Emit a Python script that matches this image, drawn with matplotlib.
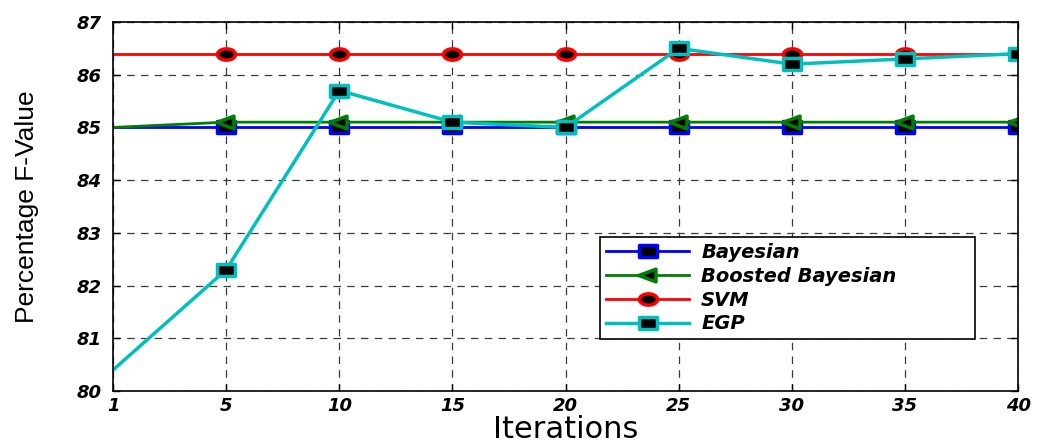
import matplotlib
matplotlib.use("Agg")
import matplotlib.pyplot as plt
from matplotlib.path import Path
import numpy as np

# data
iterations = ["1", "5", "10", "15", "20", "25", "30", "35", "40"]
bayesian = [85.0, 85.0, 85.0, 85.0, 85.0, 85.0, 85.0, 85.0, 85.0]
boosted = [85.0, 85.1, 85.1, 85.1, 85.1, 85.1, 85.1, 85.1, 85.1]
svm = [86.4, 86.4, 86.4, 86.4, 86.4, 86.4, 86.4, 86.4, 86.4]
egp = [80.4, 82.3, 85.7, 85.1, 85.0, 86.5, 86.2, 86.3, 86.4]

plt.rcParams["font.family"] = ["Liberation Sans", "DejaVu Sans"]

# the original figure looks stretched sideways, so markers are wider than tall
rect = Path([(-1.5, -1), (1.5, -1), (1.5, 1), (-1.5, 1), (-1.5, -1)],
	[Path.MOVETO, Path.LINETO, Path.LINETO, Path.LINETO, Path.CLOSEPOLY])
tri = Path([(-1.3, 0), (1.0, 0.85), (1.0, -0.85), (-1.3, 0)],
	[Path.MOVETO, Path.LINETO, Path.LINETO, Path.CLOSEPOLY])
t = np.linspace(0, 2 * np.pi, 41)
ell = Path(np.column_stack([1.6 * np.cos(t), np.sin(t)]))

fig = plt.figure(figsize=(10.4, 4.45), dpi=100)
ax = fig.add_axes([0.1087, 0.1213, 0.8702, 0.8293])

x = np.arange(len(iterations))
marks = list(range(1, len(iterations)))

ax.plot(x, bayesian, color="#0000ff", lw=2, marker=rect, ms=13, mfc="black",
	mec="#0000ff", mew=2.5, markevery=marks, label="Bayesian")
ax.plot(x, boosted, color="#007f00", lw=2, marker=tri, ms=14, mfc="black",
	mec="#007f00", mew=2.5, markevery=marks, label="Boosted Bayesian")
ax.plot(x, svm, color="#ff0000", lw=2, marker=ell, ms=13, mfc="black",
	mec="#ff0000", mew=2.5, markevery=marks, label="SVM")
ax.plot(x, egp, color="#00bfbf", lw=2.5, marker=rect, ms=13, mfc="black",
	mec="#00bfbf", mew=2.5, markevery=marks, label="EGP")

ax.set_xlim(0, len(iterations) - 1)
ax.set_ylim(80, 87)
ax.set_xticks(x)
ax.set_xticklabels(iterations)
ax.set_yticks(np.arange(80, 88, 1))

for lab in ax.get_xticklabels() + ax.get_yticklabels():
	lab.set_family("DejaVu Sans")
	lab.set_fontweight("bold")
	lab.set_fontstyle("italic")
	lab.set_fontsize(13)

ax.tick_params(direction="in", top=True, right=True, length=5, width=1)
ax.tick_params(axis="y", pad=8)
ax.tick_params(axis="x", pad=4)
ax.grid(True, color="#3a3a3a", linestyle=(0, (6, 5)), lw=0.9)
ax.set_axisbelow(True)
for s in ax.spines.values():
	s.set_linewidth(1.2)
	s.set_color("black")

ax.set_xlabel("Iterations", fontsize=22, family="DejaVu Sans", labelpad=0)
ax.set_ylabel("Percentage F-Value", fontsize=19,
	family=["Liberation Sans Narrow", "Liberation Sans", "DejaVu Sans"])
ax.yaxis.set_label_coords(-0.082, 0.5)

# legend box spans the same area as in the original
lx0, ly0 = 600 / 1040, 1 - 338 / 445
lw_, lh_ = 375 / 1040, 101 / 445
leg = ax.legend(loc="upper left", bbox_to_anchor=(lx0, ly0, lw_, lh_),
	bbox_transform=fig.transFigure, mode="expand", borderaxespad=0,
	fancybox=False, framealpha=1, edgecolor="black", handlelength=4.3,
	handletextpad=0.6, borderpad=0.3, labelspacing=0.25,
	prop={"family": "DejaVu Sans", "weight": "bold", "style": "italic", "size": 14})
leg.get_frame().set_linewidth(1.2)

fig.savefig("out.png", dpi=100)
